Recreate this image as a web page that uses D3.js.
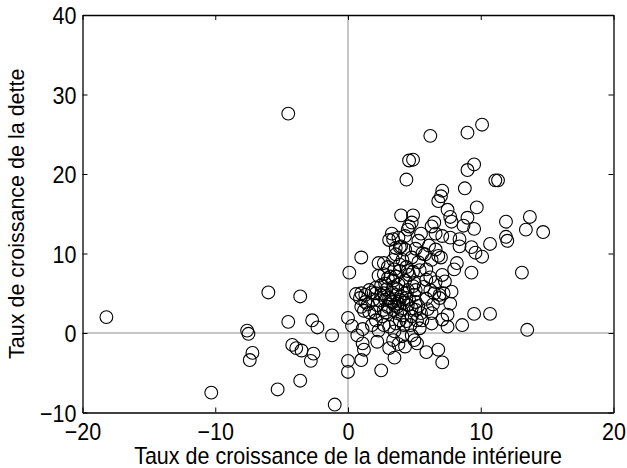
<!DOCTYPE html>
<html>
<head>
<meta charset="utf-8">
<script src="https://cdn.jsdelivr.net/npm/d3@7"></script>
<style>
  body { margin: 0; background: #fff; }
  svg { display: block; font-family: "Liberation Sans", Arial, Helvetica, sans-serif; }
</style>
</head>
<body>
<svg></svg>
<script>
/* data: demand growth (x) vs debt growth (y) */
let demandGrowth = [
  -18.2, -4.5, -7.6, -7.5, -7.2, -7.4, -10.3, -6.0, -3.6, -4.5, -2.7, -2.3, -1.2, -4.2, -3.9, -3.5, -2.6, -2.8, -3.6, -5.3,
  -1.0, 0.0, 0.0, 0.0, 0.1, 0.3, 1.0, 0.7, 1.1, 1.2, 1.0, 2.5, 1.1,
  6.2, 9.0, 10.1, 4.6, 4.9, 4.4, 9.5, 9.0, 11.1, 11.3, 8.8, 7.1, 7.0, 6.8, 9.7, 4.0, 4.9, 7.5, 7.7, 7.8, 9.0, 8.7, 9.5,
  11.9, 13.7, 13.4, 14.7, 11.9, 12.0, 10.7, 13.1, 13.5, 10.7, 9.5, 8.6, 9.3, 9.6, 10.1, 9.3, 8.2, 8.0, 8.4, 8.4, 7.7, 7.1,
  6.6, 6.3, 6.5, 4.8, 4.6, 4.5, 5.3, 5.6, 6.6, 6.8, 7.0, 6.3, 7.1, 5.9, 5.4, 4.9, 4.6, 4.5, 3.9, 3.3, 3.4, 3.1, 3.6, 3.9,
  4.0, 4.3, 2.7, 3.0, 3.4, 2.3, 2.3, 3.2, 3.6, 2.8, 3.4, 2.1, 1.6, 1.0, 0.6, 0.9, 1.3, 1.0, 1.2, 2.1, 2.5, 2.8, 4.0, 4.3,
  5.1, 5.7, 6.2, 6.5, 6.9, 7.2, 7.8, 7.7, 7.5, 7.1, 7.5, 6.3, 5.9, 5.1, 4.8, 5.2, 5.4, 4.8, 5.2, 5.9, 6.8, 7.1, 4.3, 3.5,
  3.1, 3.4, 2.2, 2.7, 3.1, 1.8, 2.1, 3.6, 3.9, 2.7, 3.0, 3.4, 3.7, 4.0, 4.5, 4.8, 5.1, 3.4, 3.1, 2.7, 4.5,
  2.5, 2.9, 3.3, 3.6, 3.9, 4.2, 3.7, 4.1, 4.4, 4.7, 2.2, 1.9, 1.5, 2.6, 3.5, 4.6, 5.0, 5.3, 5.5, 3.4, 3.8, 4.3, 2.7, 4.1,
  3.6, 3.9, 4.8, 5.8, 6.1, 5.5, 6.2, 6.6, 7.3, 5.9, 6.4, 6.9, 1.3, 1.6, 2.3, 3.5, 4.1, 5.0, 3.8, 6.3,
  3.2, 3.8, 4.4, 2.9, 4.2, 3.0, 3.5, 4.4, 5.0, 5.3, 5.1, 4.3, 3.8, 2.4, 1.8, 6.0, 5.6, 4.9, 3.7, 2.0
];
let debtGrowth = [
  2.0, 27.6, 0.3, -0.1, -2.5, -3.4, -7.5, 5.1, 4.6, 1.4, 1.6, 0.7, -0.3, -1.5, -1.9, -2.2, -2.6, -3.5, -6.0, -7.1,
  -9.0, -3.5, -4.9, 1.9, 7.6, 0.9, 9.5, -0.3, -1.3, -2.1, -3.4, -4.7, 0.5,
  24.8, 25.2, 26.2, 21.7, 21.8, 19.3, 21.2, 20.5, 19.2, 19.2, 18.2, 17.9, 17.2, 16.6, 15.8, 14.8, 14.8, 15.5, 14.6, 14.0, 14.5, 13.5, 13.1,
  14.0, 14.6, 13.0, 12.7, 12.1, 11.6, 11.2, 7.6, 0.4, 2.4, 2.4, 1.0, 10.8, 10.1, 9.6, 7.6, 8.8, 8.0, 10.9, 11.8, 12.0, 12.2,
  12.5, 13.4, 13.9, 13.9, 13.4, 13.0, 11.6, 10.0, 10.5, 9.7, 9.5, 9.2, 7.3, 8.0, 7.9, 7.7, 7.3, 7.8, 7.8, 12.5, 11.8, 11.7, 10.7, 10.8,
  10.9, 10.5, 8.8, 8.3, 9.2, 8.8, 7.2, 7.1, 7.1, 6.2, 5.8, 5.7, 5.4, 5.0, 4.9, 4.4, 3.9, 3.3, 2.8, 5.0, 4.8, 4.2, 4.6, 5.0,
  5.4, 5.8, 5.4, 5.0, 4.8, 5.0, 5.2, 3.7, 2.3, 1.7, 0.8, 2.5, 6.7, 2.9, 2.1, 1.6, 0.6, -0.3, -1.3, -2.4, -2.1, -3.7, -1.7, -3.1,
  -1.9, -0.9, -1.1, 1.0, 0.8, 1.0, 1.6, 1.2, 1.6, 2.9, 3.3, 2.9, 3.3, 2.9, 3.5, 3.1, 3.9, 3.9, 4.4, 5.0, 5.4,
  6.0, 5.5, 5.1, 4.8, 4.2, 3.8, 2.5, 2.2, 1.5, 1.0, 3.5, 4.2, 3.6, 2.1, 3.5, 4.2, 4.8, 3.4, 2.5, 6.6, 6.1, 6.6, 7.4, 9.2,
  9.9, 8.6, 9.5, 9.9, 11.0, 12.5, 7.0, 6.4, 6.5, 4.3, 3.6, 4.4, 4.8, 2.6, 0.3, 0.2, -0.4, -0.9, -1.4, 1.2,
  4.0, 3.7, 4.4, 2.6, 1.0, 6.9, 8.0, 8.3, 6.3, 8.9, 10.6, 12.2, 12.0, 4.1, 5.1, 3.0, 1.6, 5.9, 5.5, 2.6
];
let xTicks = [-20, -10, 0, 10, 20];
let yTicks = [-10, 0, 10, 20, 30, 40];
let xTitle = "Taux de croissance de la demande intérieure";
let yTitle = "Taux de croissance de la dette";

/* basic setup */
let svgWidth = 627;
let svgHeight = 468;
let plotLeft = 82.5, plotRight = 613.5, plotTop = 15, plotBottom = 412.5;
let tickLen = 5;
let fontSize = 21.5;
let stretch = "scale(1,1.1)"; // glyphs in the picture are a little taller than wide

const svg = d3.select("svg")
    .attr("width", svgWidth)
    .attr("height", svgHeight);

let x = d3.scaleLinear().domain([-20, 20]).range([plotLeft, plotRight]);
let y = d3.scaleLinear().domain([-10, 40]).range([plotBottom, plotTop]);

let points = demandGrowth.map((d, i) => [d, debtGrowth[i]]);

// grey zero lines
svg.append("line")
    .attr("x1", x(0)).attr("x2", x(0))
    .attr("y1", plotTop).attr("y2", plotBottom)
    .attr("stroke", "#8f8f8f").attr("stroke-width", 1);
svg.append("line")
    .attr("x1", plotLeft).attr("x2", plotRight)
    .attr("y1", y(0)).attr("y2", y(0))
    .attr("stroke", "#8f8f8f").attr("stroke-width", 1);

// circles
svg.append("g")
    .selectAll("circle")
    .data(points)
    .enter()
    .append("circle")
    .attr("cx", d => x(d[0]))
    .attr("cy", d => y(d[1]))
    .attr("r", 6.4)
    .attr("fill", "none")
    .attr("stroke", "#000")
    .attr("stroke-width", 1.1);

// axes, ticks pointing inwards on all four sides
function styleAxis(g) {
    g.selectAll(".domain").attr("stroke", "#000").attr("stroke-width", 1.3);
    g.selectAll(".tick line").attr("stroke", "#000").attr("stroke-width", 1);
    g.selectAll("text")
        .attr("fill", "#000")
        .style("font-size", fontSize + "px")
        .style("font-family", "'Liberation Sans', Arial, Helvetica, sans-serif");
}

svg.append("g")
    .attr("transform", "translate(0," + plotBottom + ")")
    .call(d3.axisBottom(x).tickValues(xTicks).tickSizeInner(-tickLen).tickSizeOuter(0))
    .call(styleAxis)
    .selectAll(".tick text")
    .attr("y", null).attr("dy", null)
    .attr("transform", "translate(0,27.5) " + stretch);
svg.append("g")
    .attr("transform", "translate(0," + plotTop + ")")
    .call(d3.axisTop(x).tickValues(xTicks).tickSizeInner(-tickLen).tickSizeOuter(0).tickFormat(""))
    .call(styleAxis);
svg.append("g")
    .attr("transform", "translate(" + plotLeft + ",0)")
    .call(d3.axisLeft(y).tickValues(yTicks).tickSizeInner(-tickLen).tickSizeOuter(0))
    .call(styleAxis)
    .selectAll(".tick text")
    .attr("x", null).attr("dy", null)
    .attr("transform", "translate(-6,8.5) " + stretch);
svg.append("g")
    .attr("transform", "translate(" + plotRight + ",0)")
    .call(d3.axisRight(y).tickValues(yTicks).tickSizeInner(-tickLen).tickSizeOuter(0).tickFormat(""))
    .call(styleAxis);

// axis titles
svg.append("text")
    .attr("transform", "translate(" + ((plotLeft + plotRight) / 2) + ",464) " + stretch)
    .attr("text-anchor", "middle")
    .style("font-size", fontSize + "px")
    .text(xTitle);
svg.append("text")
    .attr("transform", "translate(24," + ((plotTop + plotBottom) / 2) + ") rotate(-90)")
    .attr("text-anchor", "middle")
    .style("font-size", fontSize + "px")
    .text(yTitle);
</script>
</body>
</html>
